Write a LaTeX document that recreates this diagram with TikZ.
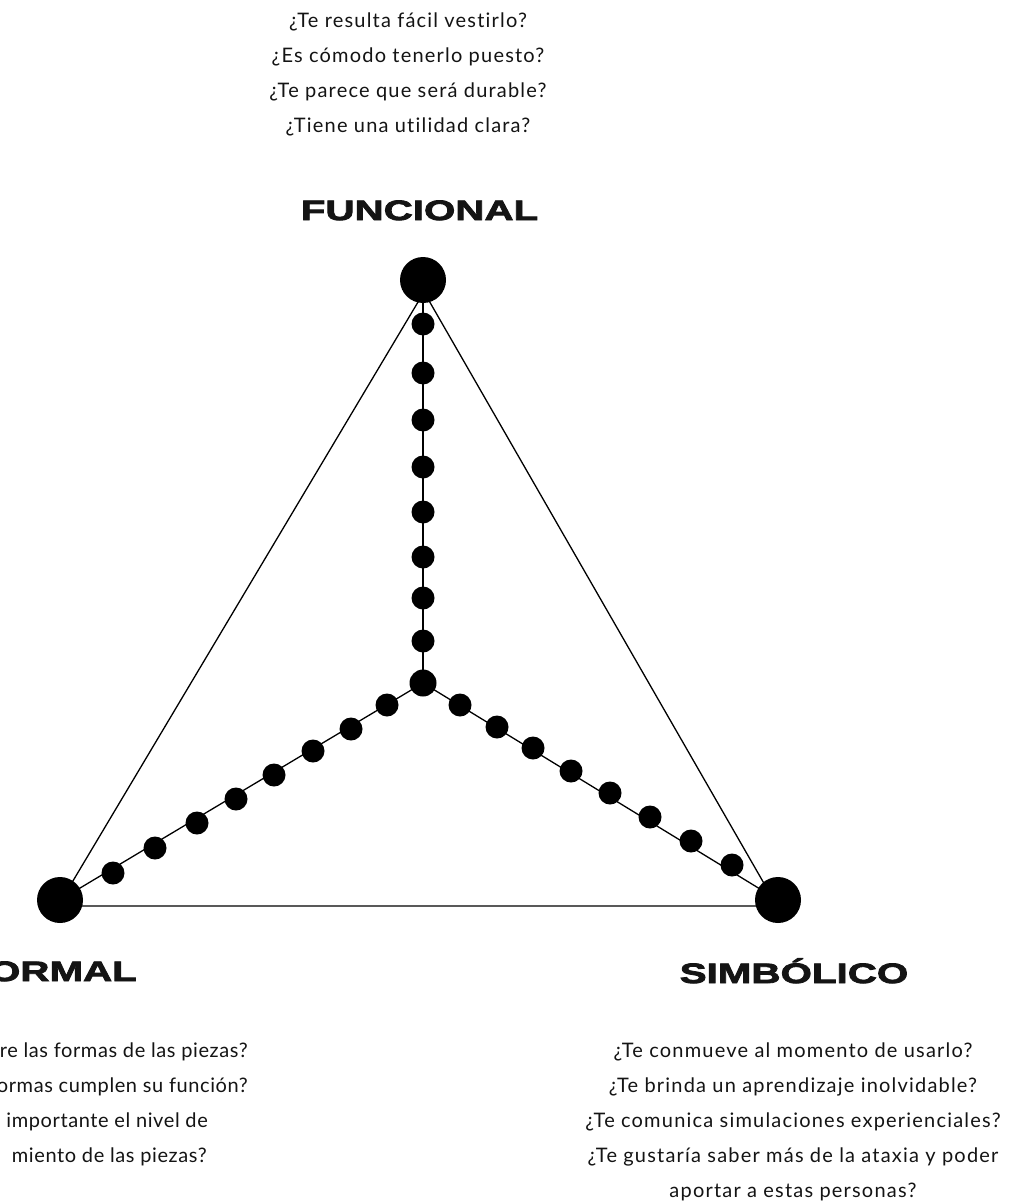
\documentclass[tikz,border=0pt]{standalone}
\usepackage{fontspec}
\setmainfont{Lato}[Ligatures={NoCommon},LetterSpace=6]
\newfontfamily\qtight{Lato}[Ligatures={NoCommon},LetterSpace=3]
\newfontfamily\hdr[FakeStretch=1.44,FakeBold=3]{Liberation Sans}
\begin{document}
\begin{tikzpicture}[x=1pt,y=-1pt,
  bigdot/.style={circle,fill=black,minimum size=46pt,inner sep=0pt},
  smalldot/.style={circle,fill=black,minimum size=23pt,inner sep=0pt},
  hubdot/.style={circle,fill=black,minimum size=27pt,inner sep=0pt},
  edgeline/.style={line width=1.3pt,black},
  q/.style={font=\fontsize{20}{35}\selectfont,text=black!92,inner sep=0pt,anchor=base},
  ql/.style={font=\qtight\fontsize{20}{35}\selectfont,text=black!92,inner sep=0pt,anchor=base east},
  hd/.style={font=\hdr\bfseries\fontsize{28}{30}\selectfont,text=black!92,inner sep=0pt,anchor=base}]
\useasboundingbox (0,0) rectangle (1035,1201);
\fill[white] (0,0) rectangle (1035,1201);

% triangle
\coordinate (tA) at (424,292);
\coordinate (tL) at (58,906);
\coordinate (tR) at (777,906);
\draw[edgeline] (tA) -- (tL) -- (tR) -- cycle;

% arms
\coordinate (hubc) at (423,683);
\draw[edgeline] (hubc) -- (423,280);
\draw[edgeline] (hubc) -- (60,900);
\draw[edgeline] (hubc) -- (778,900);

\node[bigdot] (A) at (423,280) {};
\node[bigdot] (L) at (60,900) {};
\node[bigdot] (R) at (778,900) {};
\node[hubdot] (H) at (hubc) {};

\foreach \y [count=\i] in {324,373,420,467,512,557,598,641}
  \node[smalldot] (v\i) at (423,\y) {};
\foreach \x/\y [count=\i] in {387/705,351/729,313/751,274/775,236/799,197/823,155/848,113/873}
  \node[smalldot] (l\i) at (\x,\y) {};
\foreach \x/\y [count=\i] in {460/705,497/727,533/748,571/771,610/793,650/817,691/841,732/865}
  \node[smalldot] (r\i) at (\x,\y) {};

% headers
\node[hd] (hF) at (419.5,220) {FUNCIONAL};
\node[hd] (hS) at (794,983) {SIMBÓLICO};
\node[hd,anchor=base east] (hM) at (137,981) {FORMAL};

% top questions
\node[q] (t1) at (408,28) {¿Te resulta fácil vestirlo?};
\node[q] (t2) at (408,63) {¿Es cómodo tenerlo puesto?};
\node[q] (t3) at (408,98) {¿Te parece que será durable?};
\node[q] (t4) at (408,133) {¿Tiene una utilidad clara?};

% right questions
\node[q] (s1) at (793,1057) {¿Te conmueve al momento de usarlo?};
\node[q] (s2) at (793,1092) {¿Te brinda un aprendizaje inolvidable?};
\node[q] (s3) at (793,1127) {¿Te comunica simulaciones experienciales?};
\node[q] (s4) at (793,1162) {¿Te gustaría saber más de la ataxia y poder};
\node[q] (s5) at (793,1197) {aportar a estas personas?};

% left questions (cut by the page edge)
\node[ql] (f1) at (248,1057) {re las formas de las piezas?};
\node[ql] (f2) at (248,1092) {ormas cumplen su función?};
\node[ql] (f3) at (208,1127) {importante el nivel de};
\node[ql] (f4) at (207,1162) {miento de las piezas?};
\end{tikzpicture}
\end{document}
